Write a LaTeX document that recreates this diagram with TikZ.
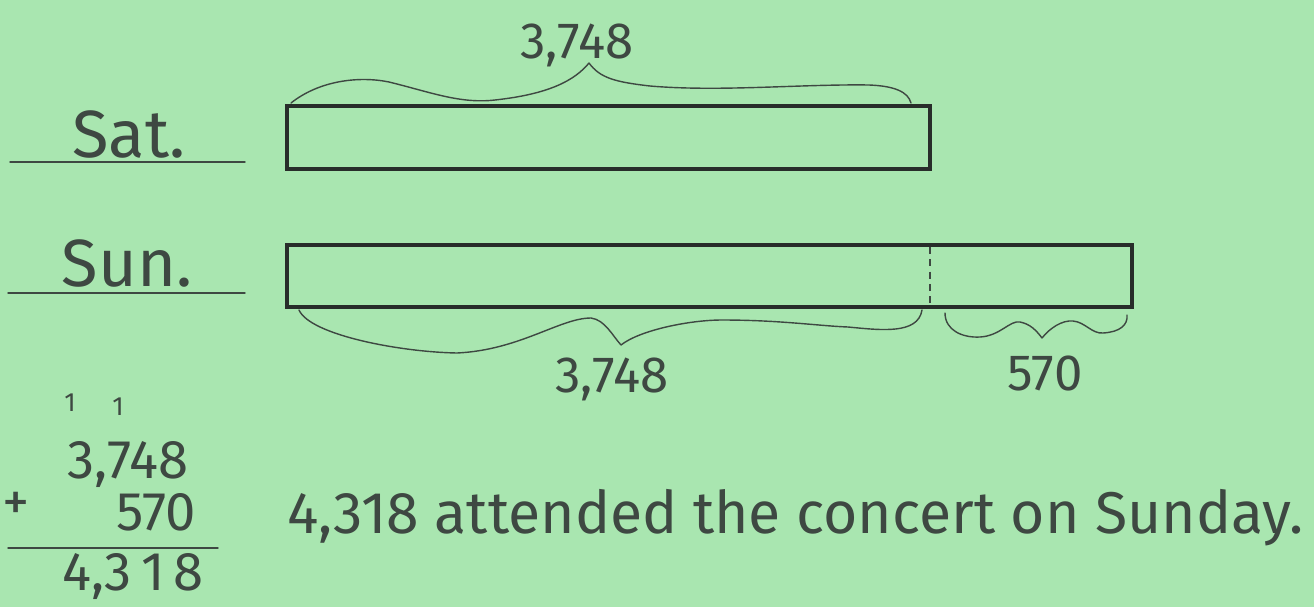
\documentclass[tikz,border=0pt]{standalone}
\usepackage{fontspec}
\setmainfont{Fira Sans}
\definecolor{paper}{RGB}{169,230,176}
\definecolor{ink}{RGB}{62,72,66}
\definecolor{barink}{RGB}{40,45,42}
\begin{document}
\begin{tikzpicture}[x=0.2mm, y=-0.2mm,
    bar/.style={draw=barink, line width=2.2pt},
    hand/.style={ink, line width=0.8pt, line cap=round, line join=round},
    label/.style={ink, inner sep=0pt, anchor=base},
  ]

  % Paper
  \fill[paper] (0,0) rectangle (1314,607);
  \useasboundingbox (0,0) rectangle (1314,607);

  % Row labels
  \node[label, font=\fontsize{38}{44}\selectfont] (satlab) at (129,157) {Sat.};
  \node[label, font=\fontsize{38}{44}\selectfont] (sunlab) at (127,286) {Sun.};
  \draw[hand] (10,162) -- (245,162);
  \draw[hand] (8,293) -- (245,293);

  % Bars
  \draw[bar] (287,106) rectangle (930,169);
  \draw[bar] (287,245) rectangle (1132,307);
  \draw[ink, line width=0.7pt, dash pattern=on 4pt off 3pt] (930,247) -- (930,305);

  % Braces
  \draw[hand] (291,103) .. controls (320,80) and (360,76) .. (389,82)
    .. controls (430,92) and (460,104) .. (495,100)
    .. controls (550,94) and (575,80) .. (589,63)
    .. controls (600,78) and (615,82) .. (650,86)
    .. controls (720,92) and (800,84) .. (869,85)
    .. controls (895,86) and (908,92) .. (911,103);
  \draw[hand] (299,310) .. controls (310,335) and (400,352) .. (457,353)
    .. controls (520,350) and (560,318) .. (591,318)
    .. controls (605,320) and (612,335) .. (621,345)
    .. controls (640,330) and (690,320) .. (722,320)
    .. controls (780,320) and (820,326) .. (848,327)
    .. controls (880,330) and (918,335) .. (922,310);
  \draw[hand] (945,313) .. controls (945,330) and (962,338) .. (980,337)
    .. controls (1000,336) and (1010,320) .. (1020,322)
    .. controls (1030,324) and (1036,330) .. (1042,338)
    .. controls (1050,328) and (1062,320) .. (1073,321)
    .. controls (1085,322) and (1092,334) .. (1103,333)
    .. controls (1120,332) and (1128,325) .. (1127,315);

  % Brace values
  \node[label, font=\fontsize{29}{34}\selectfont] (topval) at (577,58) {3,748};
  \node[label, font=\fontsize{29}{34}\selectfont] (sunval) at (612,392) {3,748};
  \node[label, font=\fontsize{29}{34}\selectfont] (addval) at (1045,390) {570};

  % Column addition
  \node[label, font=\fontsize{15}{18}\selectfont] (carry1) at (70,411) {1};
  \node[label, font=\fontsize{15}{18}\selectfont] (carry2) at (118,415) {1};
  \node[label, font=\fontsize{31}{36}\selectfont] (addend) at (128,478) {3,748};
  \node[label, font=\fontsize{31}{36}\selectfont] (plus) at (16,520) {+};
  \node[label, font=\fontsize{31}{36}\selectfont] (second) at (156,530) {570};
  \draw[hand] (8,548) -- (218,548);
  \node[label, font=\fontsize{31}{36}\selectfont] (total) at (133,590) {4,3\,1\,8};

  % Answer
  \node[label, anchor=base west, font=\fontsize{33.5}{40}\selectfont] (answer) at (287,533)
    {4,318 attended the concert on Sunday.};

\end{tikzpicture}
\end{document}
